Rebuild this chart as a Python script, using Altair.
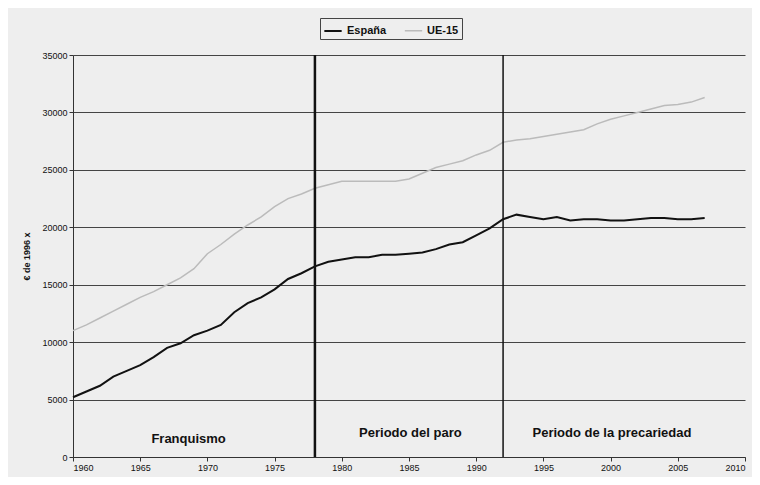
import altair as alt
import pandas as pd

years = list(range(1960, 2008))
espana = [5200, 5700, 6200, 7000, 7500, 8000, 8700, 9500, 9900, 10600,
          11000, 11500, 12600, 13400, 13900, 14600, 15500, 16000, 16600, 17000,
          17200, 17400, 17400, 17600, 17600, 17700, 17800, 18100, 18500, 18700,
          19300, 19900, 20700, 21100, 20900, 20700, 20900, 20600, 20700, 20700,
          20600, 20600, 20700, 20800, 20800, 20700, 20700, 20800]
ue15 = [11000, 11500, 12100, 12700, 13300, 13900, 14400, 15000, 15600, 16400,
        17700, 18500, 19400, 20200, 20900, 21800, 22500, 22900, 23400, 23700,
        24000, 24000, 24000, 24000, 24000, 24200, 24700, 25200, 25500, 25800,
        26300, 26700, 27400, 27600, 27700, 27900, 28100, 28300, 28500, 29000,
        29400, 29700, 30000, 30300, 30600, 30700, 30900, 31300]

period_years = [1978, 1992]
period_widths = [2.5, 1.5]
label_texts = ["Franquismo", "Periodo del paro", "Periodo de la precariedad"]
label_x = [1968.6, 1985.1, 2000.1]
label_y = [1000, 1500, 1500]

df = pd.DataFrame({
    "year": years * 2,
    "value": espana + ue15,
    "serie": ["España"] * len(years) + ["UE-15"] * len(years),
})
vdf = pd.DataFrame({"year": period_years, "w": period_widths})
ldf = pd.DataFrame({"year": label_x, "value": label_y, "t": label_texts})

xs = alt.Scale(domain=[1960, 2010], nice=False)
ys = alt.Scale(domain=[0, 35000], nice=False)

lines = alt.Chart(df).mark_line().encode(
    x=alt.X("year:Q", scale=xs, title=None,
            axis=alt.Axis(values=list(range(1960, 2011, 5)), format="d", grid=False,
                          labelFontSize=9, labelColor="#111", domainColor="#333",
                          tickColor="#333", tickSize=4)),
    y=alt.Y("value:Q", scale=ys, title="€ de 1996  x",
            axis=alt.Axis(values=list(range(0, 35001, 5000)), format="d", grid=True,
                          gridColor="#444", gridWidth=1, labelFontSize=9,
                          labelColor="#111", domainColor="#333", tickColor="#333",
                          tickSize=4, titleFontSize=9, titleFontWeight="bold",
                          titleColor="#111", titlePadding=10)),
    color=alt.Color("serie:N",
                    scale=alt.Scale(domain=["España", "UE-15"], range=["#111111", "#bbbbbb"]),
                    legend=alt.Legend(title=None, orient="none", legendX=247, legendY=-37,
                                      direction="horizontal", symbolType="stroke",
                                      symbolStrokeWidth=2, symbolSize=300,
                                      labelFontSize=11, labelFontWeight="bold",
                                      labelColor="#111", strokeColor="#444",
                                      padding=3, columnPadding=14)),
    strokeWidth=alt.StrokeWidth("serie:N",
                                scale=alt.Scale(domain=["España", "UE-15"], range=[2, 1.5]),
                                legend=None),
)

vlines = alt.Chart(vdf).mark_rule(color="#111").encode(
    x=alt.X("year:Q", scale=xs),
    strokeWidth=alt.StrokeWidth("w:Q", scale=None),
)

labels = alt.Chart(ldf).mark_text(fontSize=13, fontWeight="bold", color="#111",
                                   baseline="bottom").encode(
    x=alt.X("year:Q", scale=xs),
    y=alt.Y("value:Q", scale=ys),
    text="t:N",
)

chart = alt.layer(lines, vlines, labels).properties(
    width=672, height=402,
    background="#eeeeee",
    padding={"left": 65, "top": 47, "right": 7, "bottom": 20},
    autosize=alt.AutoSizeParams(type="none"),
).configure_view(stroke=None).configure_axis(labelFont="Liberation Sans",
                                              titleFont="Liberation Sans"
).configure_legend(labelFont="Liberation Sans").configure_text(font="Liberation Sans")

chart.save("out.html", embed_options={"renderer": "svg", "actions": False})
